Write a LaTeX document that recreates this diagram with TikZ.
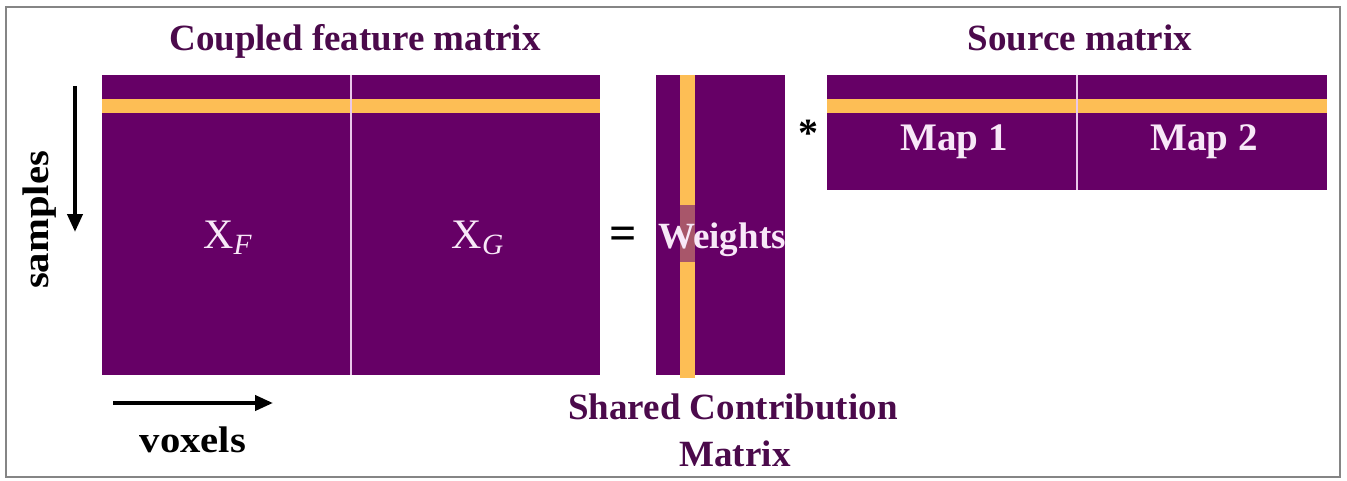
\documentclass[tikz,border=0pt]{standalone}
\usepackage{fontspec}
\setmainfont{Liberation Serif}
\newfontfamily\widefont[FakeStretch=1.1]{Liberation Serif}
\usetikzlibrary{arrows.meta}
\definecolor{mpurple}{HTML}{660066}
\definecolor{myellow}{HTML}{FDBE55}
\definecolor{mbrown}{HTML}{A8566A}
\definecolor{titlecol}{HTML}{4B0A4B}
\definecolor{oncol}{HTML}{F8E8F8}
\definecolor{divcol}{HTML}{EAC8EA}
\definecolor{bordercol}{HTML}{858585}
\tikzset{
  matfill/.style={fill=mpurple, draw=none},
  bandfill/.style={fill=myellow, draw=none},
  divline/.style={draw=divcol, line width=0.8pt},
  titletext/.style={inner sep=0pt, anchor=base, text=titlecol, font=\fontsize{18.5}{20}\selectfont\bfseries},
  ontext/.style={inner sep=0pt, anchor=base, text=oncol, font=\fontsize{19.5}{21}\selectfont\bfseries},
  axistext/.style={inner sep=0pt, anchor=base, text=black, font=\widefont\fontsize{18.5}{20}\selectfont\bfseries},
  axisarrow/.style={draw=black, line width=2pt, -{Triangle[length=9pt,width=7.5pt]}},
}
\begin{document}
\begin{tikzpicture}[x=0.5pt,y=-0.5pt]
\useasboundingbox (0,0) rectangle (1347,481);
\fill[white] (0,0) rectangle (1347,481);
\draw[draw=bordercol, line width=1pt] (6,7) rectangle (1340,477);

% coupled feature matrix
\fill[matfill] (102,75) rectangle (600,375);
\fill[bandfill] (102,99) rectangle (600,113);
\draw[divline] (351,75) -- (351,375);
\node[titletext] (t1) at (355,51) {Coupled feature matrix};
\node[ontext, font=\fontsize{21}{23}\selectfont] (xf) at (228,248) {X$_{\mathit{F}}$};
\node[ontext, font=\fontsize{21}{23}\selectfont] (xg) at (478,248) {X$_{\mathit{G}}$};

% axes
\coordinate (s1) at (75,86);
\coordinate (s2) at (75,232);
\draw[axisarrow] (s1) -- (s2);
\node[axistext, rotate=90] (samples) at (48,220) {samples};
\coordinate (v1) at (113,403);
\coordinate (v2) at (273,403);
\draw[axisarrow] (v1) -- (v2);
\node[axistext] (voxels) at (193,452) {voxels};

% equals
\node[inner sep=0pt, font=\fontsize{24}{26}\selectfont\bfseries] (eq) at (623,238) {=};

% weights matrix
\fill[matfill] (656,75) rectangle (785,375);
\fill[bandfill] (680,75) rectangle (695,378);
\fill[mbrown] (680,205) rectangle (695,262);
\node[ontext, font=\fontsize{18.5}{20}\selectfont\bfseries] (w) at (722,248) {Weights};
\node[titletext] (sc1) at (733,419) {Shared Contribution};
\node[titletext] (sc2) at (735,466) {Matrix};

% star
\node[inner sep=0pt, font=\fontsize{20}{22}\selectfont\bfseries] (star) at (808,133) {*};

% source matrix
\fill[matfill] (827,75) rectangle (1327,190);
\fill[bandfill] (827,99) rectangle (1327,113);
\draw[divline] (1077,75) -- (1077,190);
\node[titletext] (t2) at (1080,51) {Source matrix};
\node[ontext] (m1) at (954,150) {Map 1};
\node[ontext] (m2) at (1204,150) {Map 2};
\end{tikzpicture}
\end{document}
